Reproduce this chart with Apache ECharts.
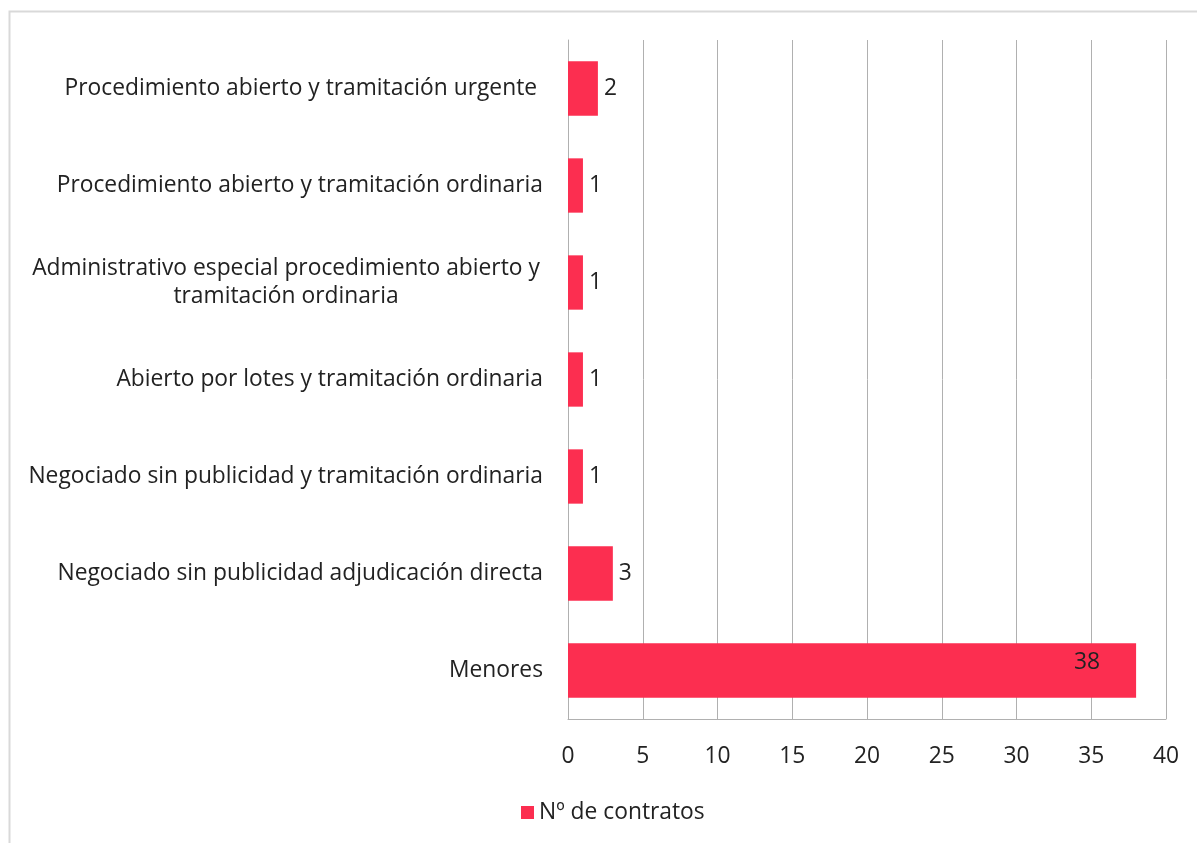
<!DOCTYPE html>
<html><head><meta charset="utf-8">
<script src="https://cdn.jsdelivr.net/npm/echarts@6/dist/echarts.min.js"></script>
<style>html,body{margin:0;padding:0;background:#fff}#c{width:1197px;height:843px}</style>
</head><body><div id="c"></div>
<script>
const categories = [
  "Menores",
  "Negociado sin publicidad adjudicación directa",
  "Negociado sin publicidad y tramitación ordinaria",
  "Abierto por lotes y tramitación ordinaria",
  "Administrativo especial procedimiento abierto y\ntramitación ordinaria",
  "Procedimiento abierto y tramitación ordinaria",
  "Procedimiento abierto y tramitación urgente "
];
const values = [38, 3, 1, 1, 1, 1, 2];
const seriesName = "Nº de contratos";
const xTicks = [0, 5, 10, 15, 20, 25, 30, 35, 40];

const FONT = '"Open Sans", sans-serif';
const FS = 22.8;
const TC = '#222222';
const chart = echarts.init(document.getElementById('c'));
chart.setOption({
  animation: false,
  textStyle: { fontFamily: FONT },
  graphic: [{
    type: 'rect', left: 7, top: 9, shape: { width: 1195, height: 840 },
    style: { fill: 'none', stroke: '#d9d9d9', lineWidth: 2 }, silent: true
  }],
  grid: { left: 568, right: 31, top: 40, bottom: 124 },
  legend: {
    bottom: 14, left: 516, itemWidth: 13, itemHeight: 13, icon: 'rect', itemGap: 6,
    textStyle: { fontSize: FS, color: TC, fontFamily: FONT },
    data: [seriesName]
  },
  xAxis: {
    type: 'value', min: xTicks[0], max: xTicks[xTicks.length - 1], interval: 5,
    axisLine: { show: true, lineStyle: { color: '#b0b0b0' } },
    axisTick: { show: false },
    axisLabel: { fontSize: FS, color: TC, margin: 26, fontFamily: FONT },
    splitLine: { show: true, lineStyle: { color: '#b0b0b0', width: 1 } }
  },
  yAxis: {
    type: 'category', data: categories,
    axisLine: { show: true, lineStyle: { color: '#b0b0b0' } },
    axisTick: { show: false },
    axisLabel: {
      fontSize: FS, color: TC, margin: 25, fontFamily: FONT, lineHeight: 28,
      formatter: function (v) {
        return v.indexOf('\n') >= 0 ? '{c|' + v + '}' : v;
      },
      rich: { c: { width: 514, align: 'center', fontSize: FS, lineHeight: 28, color: TC, fontFamily: FONT } }
    }
  },
  series: [{
    name: seriesName, type: 'bar', data: values.map(function (v, i) {
      return i === 0 ? { value: v, label: { position: 'insideRight', offset: [-30, -8] } } : v;
    }),
    barWidth: '56%',
    itemStyle: { color: '#FC2E50' },
    label: { show: true, position: 'right', distance: 6, fontSize: FS, color: TC, fontFamily: FONT }
  }]
});
</script></body></html>
